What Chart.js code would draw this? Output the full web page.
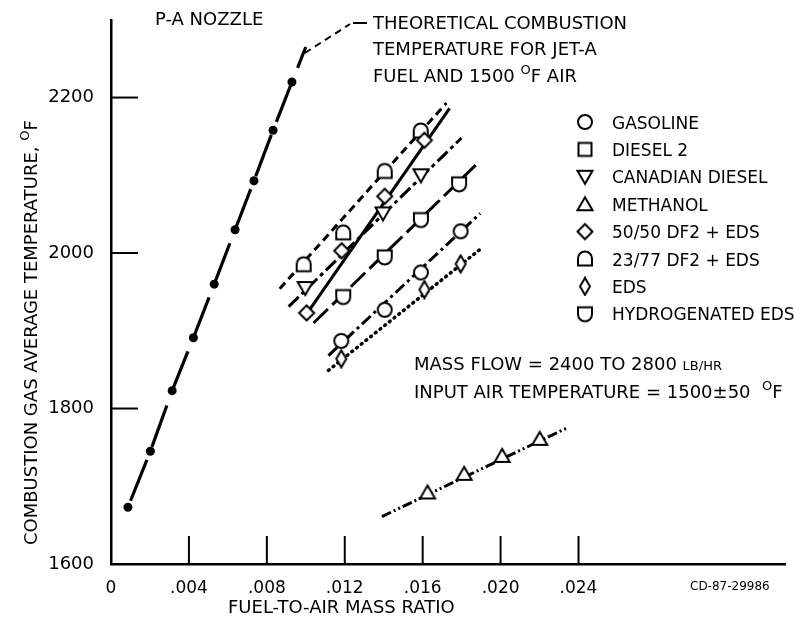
<!DOCTYPE html>
<html>
<head>
<meta charset="utf-8">
<script src="https://cdn.jsdelivr.net/npm/chart.js@4.4.0/dist/chart.umd.min.js"></script>
<style>
  html, body { margin: 0; padding: 0; background: #fff; }
</style>
</head>
<body>
<canvas id="chart" width="794" height="621"></canvas>
<script>
let FONT = '"DejaVu Sans", "Liberation Sans", sans-serif';

// axes
let xTicks = [0, 0.004, 0.008, 0.012, 0.016, 0.020, 0.024];
let xTickLabels = ["0", ".004", ".008", ".012", ".016", ".020", ".024"];
let yTicks = [1600, 1800, 2000, 2200];

// theoretical combustion temperature (Jet-A, 1500 F air)
let theoryX = [0.00087, 0.00202, 0.00314, 0.00423, 0.0053, 0.00637, 0.00734, 0.00832, 0.00929];
let theoryY = [1673, 1745, 1823, 1891, 1960, 2030, 2093, 2158, 2220];
let theoryEndX = 0.0100;
let theoryEndY = 2265;

// measured points per fuel
let gasolineX = [0.01182, 0.01405, 0.01591, 0.01795];
let gasolineY = [1887, 1927, 1975, 2028];
let canadianX = [0.00997, 0.01396, 0.01591];
let canadianY = [1955, 2051, 2100];
let methanolX = [0.01625, 0.01813, 0.02008, 0.02201];
let methanolY = [1692, 1716, 1739, 1761];
let mix5050X = [0.01004, 0.01184, 0.01405, 0.01609];
let mix5050Y = [1923, 2003, 2073, 2145];
let mix2377X = [0.00989, 0.01192, 0.01405, 0.01590];
let mix2377Y = [1985, 2026, 2105, 2157];
let edsX = [0.01182, 0.01609, 0.01795];
let edsY = [1864, 1953, 1986];
let hydroX = [0.01192, 0.01405, 0.01591, 0.01787];
let hydroY = [1944, 1995, 2043, 2089];

// faired lines (end points)
let gasolineFitX = [0.01116, 0.01895];
let gasolineFitY = [1868, 2051];
let canadianFitX = [0.00912, 0.01799];
let canadianFitY = [1931, 2148];
let methanolFitX = [0.01391, 0.02349];
let methanolFitY = [1661, 1776];
let mix5050FitX = [0.00994, 0.01738];
let mix5050FitY = [1918, 2186];
let mix2377FitX = [0.00866, 0.01722];
let mix2377FitY = [1954, 2193];
let edsFitX = [0.01116, 0.01906];
let edsFitY = [1849, 2007];
let hydroFitX = [0.0104, 0.01872];
let hydroFitY = [1910, 2113];

let legendLabels = ["GASOLINE", "DIESEL 2", "CANADIAN DIESEL", "METHANOL",
                    "50/50 DF2 + EDS", "23/77 DF2 + EDS", "EDS", "HYDROGENATED EDS"];
let legendShapes = ["circle", "square", "triDown", "triUp", "diamond", "dome", "tallDiamond", "cup"];

function pts(xs, ys) {
    return xs.map((x, i) => ({x: x, y: ys[i]}));
}

// open marker symbols drawn on small canvases
function marker(shape) {
    let S = 20;
    let cv = document.createElement("canvas");
    cv.width = S; cv.height = S;
    let c = cv.getContext("2d");
    c.lineWidth = 2;
    c.strokeStyle = "#000";
    c.fillStyle = "#fff";
    c.beginPath();
    if (shape == "circle") {
        c.arc(10, 10, 7, 0, Math.PI * 2);
    } else if (shape == "square") {
        c.rect(3.5, 3.5, 13, 13);
    } else if (shape == "triDown") {
        c.moveTo(2.5, 4); c.lineTo(17.5, 4); c.lineTo(10, 17);
    } else if (shape == "triUp") {
        c.moveTo(10, 3); c.lineTo(17.5, 16); c.lineTo(2.5, 16);
    } else if (shape == "diamond") {
        c.moveTo(10, 2.5); c.lineTo(17.5, 10); c.lineTo(10, 17.5); c.lineTo(2.5, 10);
    } else if (shape == "tallDiamond") {
        c.moveTo(10, 1.5); c.lineTo(15, 10); c.lineTo(10, 18.5); c.lineTo(5, 10);
    } else if (shape == "dome") {
        c.arc(10, 9.5, 7, Math.PI, 0); c.lineTo(17, 16.5); c.lineTo(3, 16.5);
    } else if (shape == "cup") {
        c.moveTo(3, 3.5); c.lineTo(17, 3.5); c.lineTo(17, 10.5); c.arc(10, 10.5, 7, 0, Math.PI);
    }
    c.closePath();
    c.fill();
    c.stroke();
    return cv;
}

let shapes = {};
legendShapes.forEach(s => { shapes[s] = marker(s); });

function markerSet(label, xs, ys, shape) {
    return {
        type: "scatter", label: label, data: pts(xs, ys), showLine: false,
        pointStyle: shapes[shape], pointRadius: 8, order: 0
    };
}

function fitLine(xs, ys, dash, width, cap) {
    return {
        type: "line", data: pts(xs, ys), borderColor: "#000", borderWidth: width || 3,
        borderDash: dash, borderCapStyle: cap || "butt", pointRadius: 0, fill: false, order: 2
    };
}

// text with a raised small "O" for degrees
function drawParts(c, x, y, parts, size) {
    let cx = x;
    parts.forEach(p => {
        let s = p.small ? Math.round(size * 0.72) : size;
        c.font = s + "px " + FONT;
        c.fillText(p.t, cx, y - (p.sup ? size * 0.42 : 0));
        cx += c.measureText(p.t).width;
    });
}

let extras = {
    id: "extras",
    afterDraw(chart) {
        let c = chart.ctx;
        let a = chart.chartArea;
        let xs = chart.scales.x, ys = chart.scales.y;
        c.save();
        c.strokeStyle = "#000";
        c.fillStyle = "#000";
        c.lineWidth = 2;
        // inward tick marks
        yTicks.slice(1).forEach(v => {
            let y = ys.getPixelForValue(v);
            c.beginPath(); c.moveTo(a.left, y); c.lineTo(a.left + 27, y); c.stroke();
        });
        xTicks.slice(1).forEach(v => {
            let x = xs.getPixelForValue(v);
            c.beginPath(); c.moveTo(x, a.bottom); c.lineTo(x, a.bottom - 28); c.stroke();
        });

        c.textBaseline = "alphabetic";
        c.textAlign = "left";

        // axis titles
        drawParts(c, 228, 613, [{t: "FUEL-TO-AIR MASS RATIO"}], 18);
        c.save();
        c.translate(37, 545);
        c.rotate(-Math.PI / 2);
        drawParts(c, 0, 0, [{t: "COMBUSTION GAS AVERAGE TEMPERATURE, "}, {t: "O", small: true, sup: true}, {t: "F"}], 18);
        c.restore();

        drawParts(c, 155, 25, [{t: "P-A NOZZLE"}], 18);

        // note on the theoretical curve
        drawParts(c, 373, 29, [{t: "THEORETICAL COMBUSTION"}], 18);
        drawParts(c, 373, 55, [{t: "TEMPERATURE FOR JET-A"}], 18);
        drawParts(c, 373, 82, [{t: "FUEL AND 1500 "}, {t: "O", small: true, sup: true}, {t: "F AIR"}], 18);
        let lx = xs.getPixelForValue(theoryEndX) - 1, ly = ys.getPixelForValue(theoryEndY) + 6;
        c.setLineDash([7, 5]);
        c.beginPath(); c.moveTo(lx, ly); c.lineTo(350, 24); c.stroke();
        c.setLineDash([]);
        c.beginPath(); c.moveTo(353, 23); c.lineTo(367, 23); c.stroke();

        drawParts(c, 414, 370, [{t: "MASS FLOW = 2400 TO 2800 "}, {t: "LB/HR", small: true}], 18);
        drawParts(c, 414, 398, [{t: "INPUT AIR TEMPERATURE = 1500\u00b150  "}, {t: "O", small: true, sup: true}, {t: "F"}], 18);

        c.font = "12px " + FONT;
        c.fillText("CD-87-29986", 690, 590);

        // legend
        legendLabels.forEach((lab, i) => {
            let y = 122 + i * 27.4;
            c.drawImage(shapes[legendShapes[i]], 575, y - 10);
            drawParts(c, 612, y + 6.5, [{t: lab}], 17);
        });
        c.restore();
    }
};

let ctx = document.getElementById("chart").getContext("2d");

let chart = new Chart(ctx, {
    type: "scatter",
    data: {
        datasets: [
            {
                type: "line", data: pts(theoryX.concat([theoryEndX]), theoryY.concat([theoryEndY])),
                borderColor: "#000", borderWidth: 3.2, borderDash: [44, 14], borderDashOffset: 51,
                pointRadius: theoryX.map(() => 4.5).concat([0]), pointBackgroundColor: "#000",
                pointBorderWidth: 0, fill: false, order: 1
            },
            fitLine(gasolineFitX, gasolineFitY, [12, 4, 3, 4]),
            fitLine(canadianFitX, canadianFitY, [14, 4, 4, 4]),
            fitLine(methanolFitX, methanolFitY, [10, 3, 2, 3, 2, 3]),
            fitLine(mix5050FitX, mix5050FitY, []),
            fitLine(mix2377FitX, mix2377FitY, [8, 5]),
            fitLine(edsFitX, edsFitY, [1, 5], 3.5, "round"),
            fitLine(hydroFitX, hydroFitY, [20, 6]),
            markerSet("GASOLINE", gasolineX, gasolineY, "circle"),
            markerSet("CANADIAN DIESEL", canadianX, canadianY, "triDown"),
            markerSet("METHANOL", methanolX, methanolY, "triUp"),
            markerSet("50/50 DF2 + EDS", mix5050X, mix5050Y, "diamond"),
            markerSet("23/77 DF2 + EDS", mix2377X, mix2377Y, "dome"),
            markerSet("EDS", edsX, edsY, "tallDiamond"),
            markerSet("HYDROGENATED EDS", hydroX, hydroY, "cup")
        ]
    },
    options: {
        responsive: false,
        animation: false,
        layout: { padding: { top: 10, right: 4, left: 0, bottom: 0 } },
        plugins: {
            legend: { display: false },
            tooltip: { enabled: false }
        },
        scales: {
            x: {
                type: "linear", min: 0, max: 0.0346,
                afterBuildTicks: s => { s.ticks = xTicks.map(v => ({value: v})); },
                afterFit: s => { s.height = 57; },
                ticks: {
                    color: "#000", font: { family: FONT, size: 17 }, padding: 6, maxRotation: 0,
                    callback: (v) => xTickLabels[xTicks.indexOf(v)]
                },
                grid: { display: false },
                border: { display: true, color: "#000", width: 2.5 }
            },
            y: {
                type: "linear", min: 1600, max: 2300,
                afterBuildTicks: s => { s.ticks = yTicks.map(v => ({value: v})); },
                afterFit: s => { s.width = 111; },
                ticks: {
                    color: "#000", font: { family: FONT, size: 18 }, padding: 9,
                    callback: (v) => String(v)
                },
                grid: { display: false },
                border: { display: true, color: "#000", width: 2.5 }
            }
        }
    },
    plugins: [extras]
});
</script>
</body>
</html>
